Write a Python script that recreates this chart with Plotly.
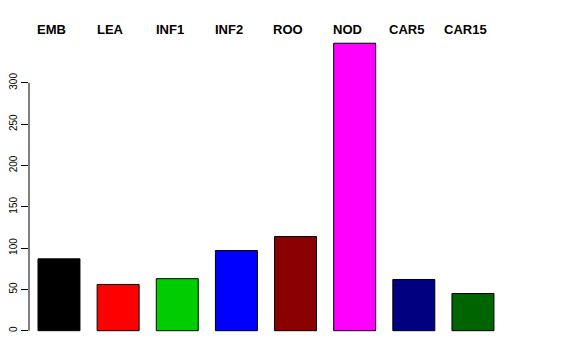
import plotly.graph_objects as go

categories = ["EMB", "LEA", "INF1", "INF2", "ROO", "NOD", "CAR5", "CAR15"]
values = [87, 56, 63, 97, 114, 348, 62, 45]
colors = ["#000000", "#FF0000", "#00CD00", "#0000FF", "#8B0000", "#FF00FF", "#000080", "#006400"]
y_ticks = [0, 50, 100, 150, 200, 250, 300]

FONT = "Liberation Sans, Arial, Helvetica, sans-serif"

fig = go.Figure()
fig.add_trace(go.Bar(
    x=list(range(len(categories))),
    y=values,
    marker=dict(color=colors, line=dict(color="#000000", width=1)),
    width=0.71,
    hoverinfo="skip",
))

for i, name in enumerate(categories):
    fig.add_annotation(
        x=i, y=1.0068, xref="x", yref="paper", text="<b>%s</b>" % name,
        showarrow=False, xanchor="center", yanchor="middle", xshift=-7.5,
        font=dict(family=FONT, size=13, color="#000000"),
    )

fig.add_shape(type="line", xref="paper", yref="y", x0=0, x1=0, y0=0, y1=300,
              line=dict(color="#000000", width=1))

fig.update_layout(
    width=568, height=352,
    margin=dict(l=21, r=73, t=24, b=21, pad=0, autoexpand=False),
    paper_bgcolor="white", plot_bgcolor="white",
    showlegend=False,
    font=dict(family=FONT, color="#000000"),
    xaxis=dict(range=[-0.507, 7.508], visible=False, showgrid=False, zeroline=False,
               automargin=False),
    yaxis=dict(
        range=[-10.05, 361.6], showgrid=False, zeroline=False, showline=False,
        automargin=False,
        tickvals=y_ticks, ticktext=[str(v) for v in y_ticks],
        ticks="outside", ticklen=7, tickwidth=1, tickcolor="#000000",
        tickangle=-90, tickfont=dict(family=FONT, size=10, color="#000000"),
    ),
)

fig.write_html("out.html")
